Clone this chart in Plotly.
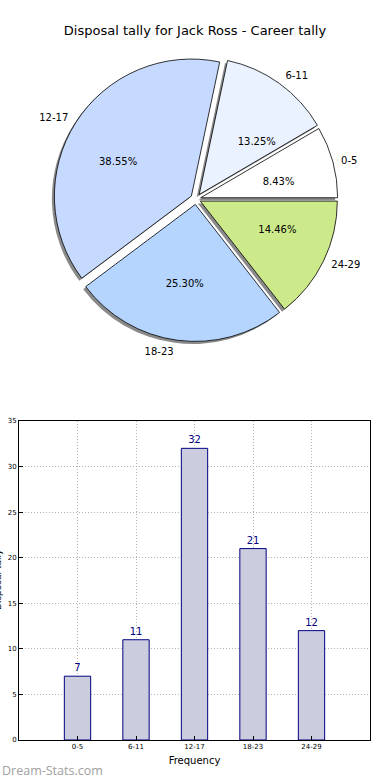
import plotly.graph_objects as go

categories = ["0-5", "6-11", "12-17", "18-23", "24-29"]
tally = [7, 11, 32, 21, 12]
pie_colors = ["#ffffff", "#eaf2ff", "#c6d9ff", "#b5d5ff", "#cdea8b"]
pulls = [0.035, 0.04, 0.04, 0.04, 0.035]
y_ticks = [0, 5, 10, 15, 20, 25, 30, 35]
# which slices get their percentage drawn in the inner ring (True) or the slice body (False)
pct_inner = [True, True, True, False, True]

W, H = 390, 780
ML, MR, MT, MB = 19, 20, 0, 40
PW, PH = W - ML - MR, H - MT - MB

def px_x(p):
    return (p - ML) / PW

def px_y(p):
    return (H - MB - p) / PH

def box(cx, cy, half):
    return dict(x=[px_x(cx - half), px_x(cx + half)], y=[px_y(cy + half), px_y(cy - half)])

cx, cy, r = 196, 199, 137
k = 1 + max(pulls)
main_dom = box(cx, cy, r * k)
shadow_dom = box(cx - 2.5, cy + 2.5, r * k)
label_dom = box(cx, cy, r * 1.04 * k)
pct_dom = box(cx, cy, 64 * k)

# slices listed clockwise from 3 o'clock == matplotlib's counterclockwise order from 0 deg
rev = slice(None, None, -1)
fig = go.Figure()
common = dict(labels=categories[rev], values=tally[rev], sort=False, direction="clockwise",
              rotation=90, pull=pulls[rev], showlegend=False, hoverinfo="skip")
PCT = "%{percent:.2%}"
clear = ["rgba(0,0,0,0)"] * 5
font10 = dict(family="DejaVu Sans", size=10, color="#000000")

fig.add_trace(go.Pie(**common, domain=shadow_dom,
                     marker=dict(colors=["#8a8a8a"] * 5, line=dict(width=0)),
                     textinfo="none"))
fig.add_trace(go.Pie(**common, domain=main_dom,
                     marker=dict(colors=pie_colors[rev], line=dict(color="#000000", width=0.8)),
                     textinfo="none"))
fig.add_trace(go.Pie(**common, domain=main_dom,
                     marker=dict(colors=clear, line=dict(width=0)),
                     texttemplate=[("" if f else PCT) for f in pct_inner[rev]],
                     textposition="inside", insidetextorientation="horizontal",
                     insidetextfont=font10))
fig.add_trace(go.Pie(**common, domain=pct_dom,
                     marker=dict(colors=clear, line=dict(width=0)),
                     texttemplate=[(PCT if f else "") for f in pct_inner[rev]],
                     textposition="outside", outsidetextfont=font10))
fig.add_trace(go.Pie(**common, domain=label_dom,
                     marker=dict(colors=clear, line=dict(width=0)),
                     textinfo="label", textposition="outside", outsidetextfont=font10))

fig.add_trace(go.Bar(x=list(range(len(categories))), y=tally, width=0.45,
                     marker=dict(color="#ccccdf", line=dict(color="#000080", width=1)),
                     text=[str(v) for v in tally], textposition="outside",
                     textfont=dict(family="DejaVu Sans", size=10, color="#000080"),
                     cliponaxis=False, showlegend=False, hoverinfo="skip",
                     xaxis="x", yaxis="y"))

axis_common = dict(showline=True, linecolor="#000000", linewidth=1, mirror=True,
                   showgrid=True, gridcolor="#b4b4b4", griddash="1px,2px", gridwidth=1,
                   ticks="inside", ticklen=4, tickcolor="#000000", zeroline=False,
                   automargin=False,
                   tickfont=dict(family="DejaVu Sans", size=7, color="#000000"))

fig.update_layout(
    width=W, height=H,
    margin=dict(l=ML, r=MR, t=MT, b=MB, autoexpand=False),
    paper_bgcolor="#ffffff", plot_bgcolor="#ffffff",
    title=dict(text="Disposal tally for Jack Ross - Career tally", x=0.5, xanchor="center",
               y=1 - 30 / H, yref="container", yanchor="middle",
               font=dict(family="DejaVu Sans", size=13, color="#000000")),
    xaxis=dict(**axis_common, domain=[0, 1], range=[-1, 5],
               tickmode="array", tickvals=list(range(len(categories))), ticktext=categories,
               title=dict(text="Frequency", standoff=6,
                          font=dict(family="DejaVu Sans", size=10, color="#000000"))),
    yaxis=dict(**axis_common, domain=[0, px_y(421)], range=[0, 35],
               tickmode="array", tickvals=y_ticks),
    annotations=[
        dict(text="Disposal tally", xref="paper", yref="paper", textangle=-90,
             x=px_x(-2), y=px_y(580), xanchor="center", yanchor="middle", showarrow=False,
             font=dict(family="DejaVu Sans", size=9, color="#000000")),
        dict(text="Dream-Stats.com", xref="paper", yref="paper",
             x=px_x(0), y=px_y(770), xanchor="left", yanchor="middle",
             showarrow=False,
             font=dict(family="Open Sans", size=12.5, color="#a0a0a0")),
    ],
)

fig.write_html("out.html", config={"displayModeBar": False},
               post_script="document.body.style.margin='0';")
